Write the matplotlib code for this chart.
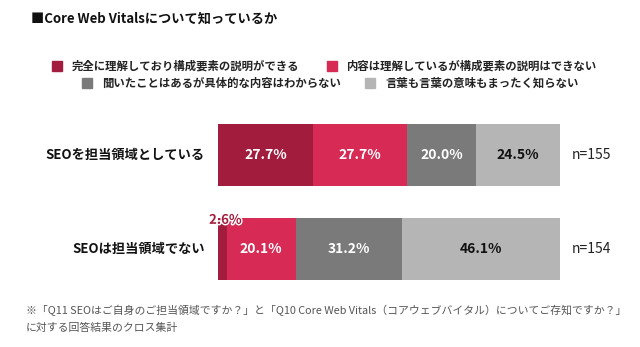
import matplotlib.pyplot as plt
import matplotlib.patheffects as pe
import numpy as np

plt.rcParams['font.family'] = ['Noto Sans CJK JP', 'DejaVu Sans']

title = "■Core Web Vitalsについて知っているか"
groups = ["SEOを担当領域としている", "SEOは担当領域でない"]
counts = ["n=155", "n=154"]
answers = ["完全に理解しており構成要素の説明ができる",
           "内容は理解しているが構成要素の説明はできない",
           "聞いたことはあるが具体的な内容はわからない",
           "言葉も言葉の意味もまったく知らない"]
shares = [[27.7, 2.6],
          [27.7, 20.1],
          [20.0, 31.2],
          [24.5, 46.1]]
colors = ['#A21D3D', '#D72A55', '#7A7A7A', '#B5B5B5']
text_colors = ['white', 'white', 'white', '#111111']
note = ("※「Q11 SEOはご自身のご担当領域ですか？」と「Q10 Core Web Vitals（コアウェブバイタル）についてご存知ですか？」\n"
        "に対する回答結果のクロス集計")

fig = plt.figure(figsize=(6.4, 3.47), dpi=100)
W, H = 640, 347
ax = fig.add_axes([218 / W, 1 - 300 / H, 342 / W, 200 / H])

y = np.arange(len(groups))
left = np.zeros(len(groups))
for i, vals in enumerate(shares):
    vals = np.array(vals)
    ax.barh(y, vals, left=left, height=0.65, color=colors[i], edgecolor='none')
    for j, v in enumerate(vals):
        if v < 5:
            # small segment: label sits on the top edge of the bar
            t = ax.text(left[j] + v / 2 + 0.8, y[j] - 0.31, f"{v:.1f}%", ha='center', va='center',
                        color=colors[i], fontsize=9.5, fontweight='bold')
            t.set_path_effects([pe.withStroke(linewidth=2, foreground='white')])
        else:
            ax.text(left[j] + v / 2, y[j], f"{v:.1f}%", ha='center', va='center',
                    color=text_colors[i], fontsize=10, fontweight='bold')
    left += vals

for j, g in enumerate(groups):
    ax.text(-3.8, y[j], g, ha='right', va='center', fontsize=9.5, fontweight='bold', color='#111111')
    ax.text(103.3, y[j], counts[j], ha='left', va='center', fontsize=10, color='#222222')

ax.set_xlim(0, 100)
ax.set_ylim(1 + 51 / 94, -55 / 94)
ax.axis('off')

fig.text(31 / W, 1 - 19 / H, title, ha='left', va='center', fontsize=9.5, fontweight='bold', color='#111111')

legend_pos = [(52, 66), (327, 66), (82, 83), (365, 83)]
for (lx, ly), lab, c in zip(legend_pos, answers, colors):
    fig.patches.append(plt.Rectangle((lx / W, 1 - (ly + 5) / H), 10 / W, 10 / H,
                                     transform=fig.transFigure, color=c))
    fig.text((lx + 20) / W, 1 - ly / H, lab, ha='left', va='center', fontsize=8.2, fontweight='bold',
             color='#222222')

fig.text(26 / W, 1 - 319 / H, note, ha='left', va='center', fontsize=7.8, color='#555555', linespacing=1.75)

fig.savefig('out.png', dpi=100)
